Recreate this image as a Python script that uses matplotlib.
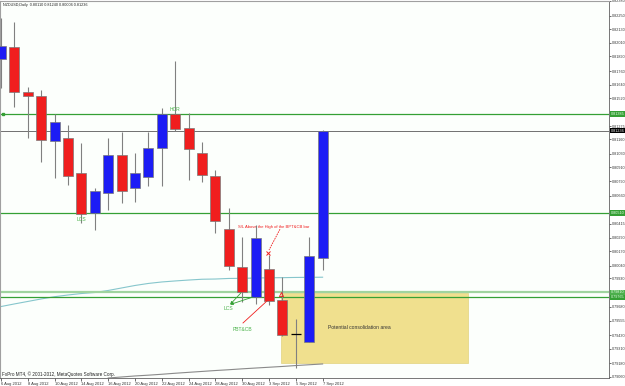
import matplotlib

matplotlib.use("Agg")
import matplotlib.pyplot as plt  # noqa: E402
from matplotlib.patches import Rectangle  # noqa: E402
from matplotlib.transforms import blended_transform_factory  # noqa: E402

plt.rcParams["font.family"] = ["Liberation Sans", "DejaVu Sans"]

# daily NZDUSD bars, 6 Aug - 7 Sep 2012
bar_dates = ["6 Aug 2012", "7 Aug 2012", "8 Aug 2012", "9 Aug 2012", "10 Aug 2012",
             "13 Aug 2012", "14 Aug 2012", "15 Aug 2012", "16 Aug 2012", "17 Aug 2012",
             "20 Aug 2012", "21 Aug 2012", "22 Aug 2012", "23 Aug 2012", "24 Aug 2012",
             "27 Aug 2012", "28 Aug 2012", "29 Aug 2012", "30 Aug 2012", "31 Aug 2012",
             "3 Sep 2012", "4 Sep 2012", "5 Sep 2012", "6 Sep 2012", "7 Sep 2012"]
opens = [0.81868, 0.81974, 0.81577, 0.81541, 0.81144, 0.81170, 0.80861, 0.80508, 0.80685,
         0.81020, 0.80729, 0.80826, 0.81082, 0.81382, 0.81259, 0.81038, 0.80835, 0.80367,
         0.80031, 0.79766, 0.80014, 0.79740, 0.79440, 0.79369, 0.80110]
highs = [0.82230, 0.82195, 0.81621, 0.81594, 0.81382, 0.81285, 0.81126, 0.80729, 0.81170,
         0.81223, 0.81038, 0.81223, 0.81435, 0.81850, 0.81391, 0.81135, 0.80888, 0.80552,
         0.80296, 0.80402, 0.80137, 0.79943, 0.79572, 0.80296, 0.81240]
lows = [0.81612, 0.81444, 0.81170, 0.80958, 0.80817, 0.80755, 0.80420, 0.80358, 0.80535,
        0.80596, 0.80605, 0.80746, 0.80746, 0.81232, 0.80799, 0.80782, 0.80331, 0.80005,
        0.79722, 0.79704, 0.79696, 0.79422, 0.79139, 0.79369, 0.80006]
closes = [0.81983, 0.81577, 0.81541, 0.81153, 0.81312, 0.80835, 0.80499, 0.80702, 0.81020,
          0.80702, 0.80861, 0.81082, 0.81382, 0.81250, 0.81073, 0.80844, 0.80437, 0.80040,
          0.79810, 0.80287, 0.79731, 0.79431, 0.79440, 0.80128, 0.81236]

ma_teal = [0.79682, 0.79705, 0.79727, 0.79749, 0.79769, 0.79784, 0.79797, 0.79806, 0.79824,
           0.79846, 0.79868, 0.79886, 0.79899, 0.79908, 0.79916, 0.79923, 0.79925, 0.79930,
           0.79931, 0.79934, 0.79936, 0.79937, 0.79939, 0.79940, 0.79941]
ma_gray_start = 8
ma_gray = [0.79051, 0.79060, 0.79069, 0.79076, 0.79084, 0.79093, 0.79101, 0.79109, 0.79117,
           0.79124, 0.79132, 0.79139, 0.79146, 0.79153, 0.79161, 0.79168, 0.79175]

level_hcr = 0.81382
level_lcs = 0.80508
level_zone_top = 0.79808
level_zone_low = 0.79764
last_price = 0.81236

price_ticks = ["0.82380", "0.82250", "0.82130", "0.82010", "0.81890", "0.81760", "0.81640",
               "0.81520", "0.81275", "0.81160", "0.81030", "0.80910", "0.80790", "0.80660",
               "0.80415", "0.80290", "0.80170", "0.80040", "0.79930", "0.79680", "0.79555",
               "0.79430", "0.79310", "0.79180", "0.79060"]

zone_box = (20.9, 34.85, 0.79184, 0.79802)  # bar from, bar to, price low, price high

RED = "#f01e1e"
BLUE = "#1c1cf5"
GREEN = "#35a035"
LABEL_GREEN = "#4cb34c"

fig = plt.figure(figsize=(6.25, 3.86), dpi=100, facecolor="white")
ax = fig.add_axes([0, 8 / 386, 609 / 625, 377 / 386], facecolor="#fcfffc")
x = list(range(len(bar_dates)))

# consolidation area
ax.add_patch(Rectangle((zone_box[0], zone_box[2]), zone_box[1] - zone_box[0],
                       zone_box[3] - zone_box[2], facecolor="#f0e08e",
                       edgecolor="#e2d37f", lw=0.5, zorder=1))
ax.text(24.4, 0.79501, "Potential consolidation area", fontsize=3.6, color="#333333",
        va="center", ha="left", zorder=2)

# moving averages
ax.plot(x, ma_teal, color="#86c6cc", lw=0.8, zorder=2)
ax.plot(x[ma_gray_start:], ma_gray, color="#8a8a8a", lw=0.8, zorder=2)

# levels
ax.axhline(level_hcr, color=GREEN, lw=0.9, zorder=2)
ax.axhline(last_price, color="#707070", lw=0.7, zorder=2)
ax.axhline(level_lcs, color=GREEN, lw=0.9, zorder=2)
ax.axhline(level_zone_top, color="#9fd49f", lw=1.6, zorder=2)
ax.axhline(level_zone_low, color=GREEN, lw=0.9, zorder=2)
ax.plot([0.15], [level_hcr], marker="s", ms=1.5, color=GREEN, zorder=3)

ax.text(17.65, 0.80384, "S/L Above the High of the BPT&CB bar", fontsize=3.0, color=RED,
        ha="left", va="center", zorder=2)
ax.plot([20.82, 20.0], [0.80365, 0.80181], color=RED, lw=0.6, ls=(0, (2, 1)), zorder=2)

# candles
for i, (o, h, lo, c) in enumerate(zip(opens, highs, lows, closes)):
    ax.vlines(i, lo, h, color="#808080", lw=0.8, zorder=3)
    if abs(c - o) < 0.00002:
        ax.hlines(c, i - 0.37, i + 0.37, color="black", lw=0.9, zorder=4)
        continue
    col = BLUE if c > o else RED
    ax.bar(i, abs(c - o), bottom=min(o, c), width=0.75, color=col,
           edgecolor="#7a7a7a", lw=0.5, zorder=4)

# annotations
ax.text(12.95, 0.81425, "HCR", fontsize=3.6, color=LABEL_GREEN, ha="center", va="center", zorder=5)
ax.text(5.97, 0.80455, "LCS", fontsize=3.6, color=LABEL_GREEN, ha="center", va="center", zorder=5)
ax.text(16.94, 0.79669, "LCS", fontsize=3.6, color=LABEL_GREEN, ha="center", va="center", zorder=5)
for tx, ty in [(17.9, 0.79802), (18.8, 0.79766)]:
    ax.annotate("", xy=(17.1, 0.79700), xytext=(tx, ty),
                arrowprops=dict(arrowstyle="-|>", color=GREEN, lw=0.6,
                                mutation_scale=4, shrinkA=0, shrinkB=0), zorder=5)
ax.text(17.99, 0.79475, "PBT&CB", fontsize=3.6, color=LABEL_GREEN, ha="center", va="center", zorder=5)
ax.plot([18.06, 19.93], [0.79537, 0.79740], color=RED, lw=0.6, zorder=5)
ax.plot([19.93], [0.80155], marker="x", ms=2.5, mew=0.7, color=RED, zorder=5)
ax.plot([20.9], [0.79793], marker="^", ms=3, mfc="none", mec=RED, mew=0.6, zorder=5)

# header / footer
ax.text(0.005, 0.995, "NZDUSD,Daily  0.80110 0.81240 0.80006 0.81236", transform=ax.transAxes,
        fontsize=2.7, color="#222222", ha="left", va="top")
ax.text(0.003, 0.002, "FxPro MT4, \u00a9 2001-2012, MetaQuotes Software Corp.",
        transform=ax.transAxes, fontsize=3.3, color="#222222", ha="left", va="bottom")

# axes
ax.set_xlim(-1 / 13.4, 608 / 13.4)
ax.set_ylim(0.79051, 0.82380)
ax.yaxis.tick_right()
ax.set_yticks([float(t) for t in price_ticks])
ax.set_yticklabels(price_ticks)
ax.set_xticks(x[::2])
ax.set_xticklabels(bar_dates[::2], ha="left")
ax.tick_params(axis="y", length=1.5, width=0.5, pad=0.5, labelsize=2.7, colors="#333333")
ax.tick_params(axis="x", length=2, width=0.5, pad=1, labelsize=3.0, colors="#333333")
for side in ["left", "top"]:
    ax.spines[side].set_color("#a0a0a0")
    ax.spines[side].set_linewidth(0.8)
for side in ["right", "bottom"]:
    ax.spines[side].set_color("#606060")
    ax.spines[side].set_linewidth(0.6)

# price labels on the axis
tr = blended_transform_factory(ax.transAxes, ax.transData)
for val, txt, bg, fg in [(level_hcr, "0.81385", GREEN, "#e8ffe8"),
                         (last_price, "0.81236", "black", "white"),
                         (level_lcs, "0.80510", GREEN, "#e8ffe8"),
                         (level_zone_top, "0.79810", "#4caf4c", "#e8ffe8"),
                         (level_zone_low, "0.79765", GREEN, "#e8ffe8")]:
    ax.text(1.003, val, txt, transform=tr, fontsize=2.7, color=fg, ha="left", va="center",
            clip_on=False, zorder=6,
            bbox=dict(boxstyle="square,pad=0.2", facecolor=bg, edgecolor="none"))

fig.savefig("out.png", dpi=100)
